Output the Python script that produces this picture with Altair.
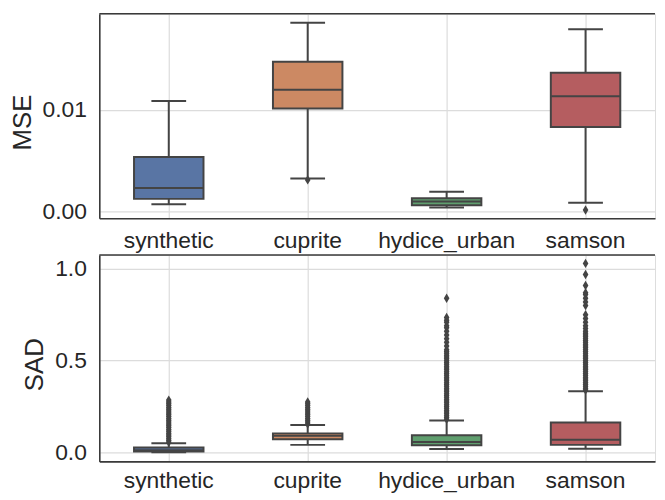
import altair as alt
import pandas as pd

datasets = ["synthetic", "cuprite", "hydice_urban", "samson"]
colors = ["#5975a4", "#cc8963", "#5f9e6e", "#b55d60"]

# MSE box statistics
mse_whislo = [0.00071, 0.00323, 0.00039, 0.00084]
mse_q1 = [0.00123, 0.01013, 0.00061, 0.00830]
mse_med = [0.00229, 0.01197, 0.00097, 0.01133]
mse_q3 = [0.00535, 0.01475, 0.00129, 0.01365]
mse_whishi = [0.01087, 0.01859, 0.00194, 0.01794]
mse_out_cat = ["cuprite", "samson"]
mse_out_val = [0.0031, 0.00013]

# SAD box statistics
sad_whislo = [0.001, 0.041, 0.018, 0.020]
sad_q1 = [0.005, 0.071, 0.039, 0.041]
sad_med = [0.012, 0.090, 0.057, 0.069]
sad_q3 = [0.027, 0.103, 0.094, 0.163]
sad_whishi = [0.050, 0.149, 0.174, 0.333]

sad_out_synthetic = [0.055, 0.065, 0.075, 0.085, 0.095, 0.105, 0.115, 0.125,
                     0.135, 0.145, 0.155, 0.165, 0.175, 0.185, 0.195, 0.205,
                     0.215, 0.225, 0.235, 0.245, 0.255, 0.265, 0.275, 0.285]
sad_out_cuprite = [0.155, 0.165, 0.175, 0.185, 0.195, 0.205, 0.215, 0.225,
                   0.235, 0.245, 0.255, 0.265, 0.275]
sad_out_hydice = [0.18, 0.19, 0.20, 0.21, 0.22, 0.23, 0.24, 0.25, 0.26, 0.27,
                  0.28, 0.29, 0.30, 0.31, 0.32, 0.33, 0.34, 0.35, 0.36, 0.37,
                  0.38, 0.39, 0.40, 0.41, 0.42, 0.43, 0.44, 0.45, 0.46, 0.47,
                  0.48, 0.49, 0.50, 0.51, 0.52, 0.53, 0.54, 0.55, 0.56, 0.58,
                  0.60, 0.62, 0.64, 0.66, 0.68, 0.69, 0.71, 0.72, 0.735, 0.84]
sad_out_samson = [0.34, 0.35, 0.36, 0.37, 0.38, 0.39, 0.40, 0.41, 0.42, 0.43,
                  0.44, 0.45, 0.46, 0.47, 0.48, 0.49, 0.50, 0.51, 0.52, 0.53,
                  0.54, 0.55, 0.56, 0.57, 0.58, 0.59, 0.60, 0.61, 0.62, 0.63,
                  0.64, 0.65, 0.66, 0.675, 0.69, 0.71, 0.73, 0.75, 0.80, 0.82,
                  0.84, 0.86, 0.87, 0.91, 0.97, 1.03]

LINE = "#444444"
SPINE = "#3a3a3a"
GRID = "#dcdcdc"
TXT = "#262626"
FONT = "Liberation Sans"
DIAMOND = "M0,-1L0.6,0L0,1L-0.6,0Z"


def panel(stats, outs, ydom, yticks, fmt, title, band, h, xlabpad):
    w = band * 4
    bw = band * 0.5
    cw = bw / 2
    xenc = alt.X("cat:N", sort=datasets,
                 scale=alt.Scale(domain=datasets, paddingInner=0, paddingOuter=0),
                 axis=alt.Axis(title=None, labelAngle=0, grid=True, gridColor=GRID,
                               gridWidth=1.2, ticks=False, tickSize=0,
                               domain=True, domainColor=SPINE, domainWidth=1.6,
                               labelFont=FONT, labelFontSize=23, labelColor=TXT,
                               labelPadding=xlabpad))
    ysc = alt.Scale(domain=ydom, nice=False, zero=False)
    yax = alt.Axis(values=yticks, format=fmt, title=title, grid=True,
                   gridColor=GRID, gridWidth=1.2, ticks=False, tickSize=0,
                   domain=True, domainColor=SPINE, domainWidth=1.6,
                   labelFont=FONT, labelFontSize=23, labelColor=TXT,
                   labelPadding=13, titleFont=FONT, titleFontSize=26,
                   titleFontWeight="normal", titleColor=TXT, titlePadding=7,
                   titleY=h / 2 + 6)
    base = alt.Chart(stats)
    whisk = base.mark_rule(color=LINE, strokeWidth=2).encode(
        x=xenc, y=alt.Y("lo:Q", scale=ysc, axis=yax), y2="hi:Q")
    box = base.mark_bar(size=bw, stroke=LINE, strokeWidth=2, opacity=1).encode(
        x=xenc, y=alt.Y("q1:Q", scale=ysc), y2="q3:Q",
        color=alt.Color("cat:N", scale=alt.Scale(domain=datasets, range=colors),
                        legend=None))
    med = base.mark_tick(size=bw, thickness=2, color=LINE, opacity=1).encode(
        x=xenc, y=alt.Y("med:Q", scale=ysc))
    cap_lo = base.mark_tick(size=cw, thickness=2, color=LINE, opacity=1).encode(
        x=xenc, y=alt.Y("lo:Q", scale=ysc))
    cap_hi = base.mark_tick(size=cw, thickness=2, color=LINE, opacity=1).encode(
        x=xenc, y=alt.Y("hi:Q", scale=ysc))
    out = alt.Chart(outs).mark_point(shape=DIAMOND, filled=True, size=90,
                                     color=LINE, opacity=1, strokeWidth=0).encode(
        x=xenc, y=alt.Y("val:Q", scale=ysc))
    top = alt.Chart(pd.DataFrame({"a": [0]})).mark_rule(
        color=SPINE, strokeWidth=1.6).encode(
        x=alt.value(0), x2=alt.value(w), y=alt.value(0))
    return alt.layer(whisk, box, med, cap_lo, cap_hi, out, top).properties(
        width=w, height=h)


mse_stats = pd.DataFrame({"cat": datasets, "lo": mse_whislo, "q1": mse_q1,
                          "med": mse_med, "q3": mse_q3, "hi": mse_whishi})
mse_outs = pd.DataFrame({"cat": mse_out_cat, "val": mse_out_val})

sad_stats = pd.DataFrame({"cat": datasets, "lo": sad_whislo, "q1": sad_q1,
                          "med": sad_med, "q3": sad_q3, "hi": sad_whishi})
sad_outs = pd.DataFrame({
    "cat": ["synthetic"] * len(sad_out_synthetic) + ["cuprite"] * len(sad_out_cuprite)
    + ["hydice_urban"] * len(sad_out_hydice) + ["samson"] * len(sad_out_samson),
    "val": sad_out_synthetic + sad_out_cuprite + sad_out_hydice + sad_out_samson})

top_panel = panel(mse_stats, mse_outs, [-0.00068, 0.01946], [0.0, 0.01], ".2f",
                  "MSE", 140, 206, 11)
bottom_panel = panel(sad_stats, sad_outs, [-0.049, 1.076], [0.0, 0.5, 1.0], ".1f",
                     "SAD", 140, 208, 8)

chart = alt.ConcatChart(concat=[top_panel, bottom_panel], columns=1,
                        spacing=0).properties(
    padding={"left": 0, "top": 2, "right": 0, "bottom": 0}
).configure_view(stroke=None).configure(background="white")

chart.save("out.html", embed_options={"renderer": "svg", "actions": False})
